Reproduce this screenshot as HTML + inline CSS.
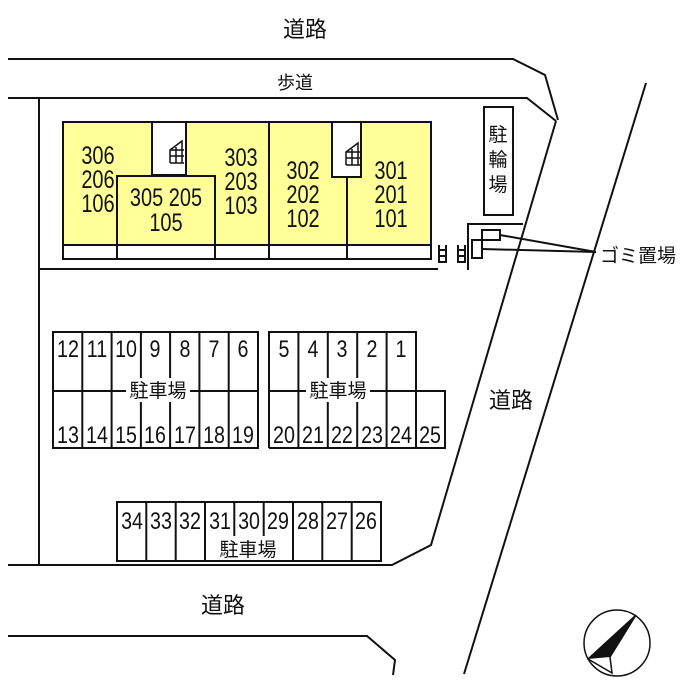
<!DOCTYPE html>
<html><head><meta charset="utf-8"><style>
html,body{margin:0;padding:0;background:#fff}
svg{display:block}
text{font-family:"Liberation Sans","Noto Sans CJK JP",sans-serif;fill:#111}
.n{font-size:21px;text-anchor:middle}
.u{font-size:25px;text-anchor:middle}
.k{font-size:19px;text-anchor:middle}
</style></head><body>
<svg width="700" height="700" viewBox="0 0 700 700" xmlns="http://www.w3.org/2000/svg">
<g fill="none" stroke="#111" stroke-width="2">
<polyline points="8,59 513,59 545,75 558,120"/>
<polyline points="8,98 527,98 556,121"/>
<line x1="646" y1="83" x2="464" y2="674"/>
<polyline points="556,121 431,545 392,565 8,565"/>
<line x1="39" y1="98" x2="39" y2="565"/>
<line x1="39" y1="269" x2="438" y2="269"/>
<polyline points="8,636 367,636 395,660 393,675"/>
</g>
<rect x="63" y="122" width="368" height="137" fill="#ffff99" stroke="#111" stroke-width="2"/>
<rect x="63" y="245" width="368" height="14" fill="#fff" stroke="#111" stroke-width="2"/>
<g stroke="#111" stroke-width="2" fill="#fff">
<rect x="152" y="122" width="34" height="53"/>
<rect x="332" y="122" width="29" height="55"/>
<rect x="117" y="176" width="98" height="83" fill="#ffff99"/>
<rect x="117" y="245" width="98" height="14"/>
</g>
<g stroke="#111" stroke-width="2">
<line x1="269" y1="122" x2="269" y2="259"/>
<line x1="347" y1="177" x2="347" y2="259"/>
</g>
<g stroke="#111" stroke-width="1.5" fill="none">
<path d="M170,163 V150 L182,141 V163 M170,150 H184 M170,156 H184 M176,147 V163 M170,163 H184"/>
<path d="M346,165 V152 L358,143 V165 M346,152 H360 M346,158 H360 M352,149 V165 M346,165 H360"/>
</g>
<g class="u">
<text x="98" y="164" class="u" transform="translate(98,0) scale(0.8,1) translate(-98,0)">306</text>
<text x="98" y="188" class="u" transform="translate(98,0) scale(0.8,1) translate(-98,0)">206</text>
<text x="98" y="212" class="u" transform="translate(98,0) scale(0.8,1) translate(-98,0)">106</text>
<text x="166" y="206" class="u" transform="translate(166,0) scale(0.8,1) translate(-166,0)">305  205</text>
<text x="166" y="231" class="u" transform="translate(166,0) scale(0.8,1) translate(-166,0)">105</text>
<text x="241" y="166" class="u" transform="translate(241,0) scale(0.8,1) translate(-241,0)">303</text>
<text x="241" y="190" class="u" transform="translate(241,0) scale(0.8,1) translate(-241,0)">203</text>
<text x="241" y="214" class="u" transform="translate(241,0) scale(0.8,1) translate(-241,0)">103</text>
<text x="303" y="179" class="u" transform="translate(303,0) scale(0.8,1) translate(-303,0)">302</text>
<text x="303" y="203" class="u" transform="translate(303,0) scale(0.8,1) translate(-303,0)">202</text>
<text x="303" y="227" class="u" transform="translate(303,0) scale(0.8,1) translate(-303,0)">102</text>
<text x="391" y="179" class="u" transform="translate(391,0) scale(0.8,1) translate(-391,0)">301</text>
<text x="391" y="203" class="u" transform="translate(391,0) scale(0.8,1) translate(-391,0)">201</text>
<text x="391" y="227" class="u" transform="translate(391,0) scale(0.8,1) translate(-391,0)">101</text>
</g>
<rect x="484" y="107" width="29" height="108" fill="#fff" stroke="#111" stroke-width="2"/>
<text x="498" y="141" class="k">駐</text>
<text x="498" y="166" class="k">輪</text>
<text x="498" y="191" class="k">場</text>
<g stroke="#111" stroke-width="2" fill="none">
<polyline points="468,270 468,224 523,224"/>
<rect x="482" y="230" width="18" height="10"/>
<rect x="472" y="240" width="10" height="18"/>
<line x1="500" y1="235" x2="596" y2="252"/>
<line x1="482" y1="249" x2="596" y2="252"/>
<path d="M439,245 V263 M446,245 V263 M439,250 H446 M439,256 H446 M439,262 H446"/>
<path d="M458,245 V263 M465,245 V263 M458,250 H465 M458,256 H465 M458,262 H465"/>
</g>
<text x="600" y="262" style="font-size:19px">ゴミ置場</text>
<g stroke="#111" stroke-width="2" fill="none">
<rect x="53" y="332" width="205" height="116"/>
<line x1="53" y1="391" x2="258" y2="391"/>
<path d="M82.3,332V448 M111.6,332V448 M140.9,332V448 M170.1,332V448 M199.4,332V448 M228.7,332V448"/>
<polyline points="269,448 269,332 416,332 416,391 445,391 445,448 269,448"/>
<line x1="269" y1="391" x2="416" y2="391"/>
<path d="M298.4,332V448 M327.8,332V448 M357.2,332V448 M386.6,332V448 M416,391V448"/>
<rect x="117" y="502" width="264" height="59"/>
<path d="M146.3,502V561 M175.7,502V561 M205,502V561 M234.3,502V561 M263.7,502V561 M293,502V561 M322.3,502V561 M351.7,502V561"/>
</g>
<rect x="126" y="378" width="64" height="24" fill="#fff"/>
<rect x="306" y="378" width="64" height="24" fill="#fff"/>
<rect x="216" y="536" width="64" height="24" fill="#fff"/>
<text x="158" y="397" class="k">駐車場</text>
<text x="338" y="397" class="k">駐車場</text>
<text x="248" y="556" class="k">駐車場</text>
<g transform="scale(0.82,1)" style="font-size:24px;text-anchor:middle">
<text x="82.9" y="357">12</text><text x="118.3" y="357">11</text><text x="153.7" y="357">10</text><text x="189" y="357">9</text><text x="225.6" y="357">8</text><text x="261" y="357">7</text><text x="296.3" y="357">6</text>
<text x="82.9" y="443">13</text><text x="118.3" y="443">14</text><text x="153.7" y="443">15</text><text x="189" y="443">16</text><text x="225.6" y="443">17</text><text x="261" y="443">18</text><text x="296.3" y="443">19</text>
<text x="346.3" y="357">5</text><text x="381.7" y="357">4</text><text x="417" y="357">3</text><text x="453.7" y="357">2</text><text x="489" y="357">1</text>
<text x="346.3" y="443">20</text><text x="381.7" y="443">21</text><text x="417" y="443">22</text><text x="453.7" y="443">23</text><text x="489" y="443">24</text><text x="524.4" y="443">25</text>
<text x="161" y="529">34</text><text x="196.3" y="529">33</text><text x="231.7" y="529">32</text><text x="268.3" y="529">31</text><text x="303.7" y="529">30</text><text x="339" y="529">29</text><text x="375.6" y="529">28</text><text x="411" y="529">27</text><text x="446.3" y="529">26</text>
</g>
<text x="305" y="37" style="font-size:22px;text-anchor:middle">道路</text>
<text x="295" y="89" style="font-size:18px;text-anchor:middle">歩道</text>
<text x="511" y="408" style="font-size:22px;text-anchor:middle">道路</text>
<text x="223" y="613" style="font-size:22px;text-anchor:middle">道路</text>
<ellipse cx="617" cy="643" rx="33" ry="33" fill="none" stroke="#111" stroke-width="1.5"/>
<polygon points="636,615 588,659 610,657" fill="#111"/>
<polygon points="636,615 610,657 612,673 588,659" fill="none" stroke="#111" stroke-width="1.5"/>
</svg>
</body></html>
